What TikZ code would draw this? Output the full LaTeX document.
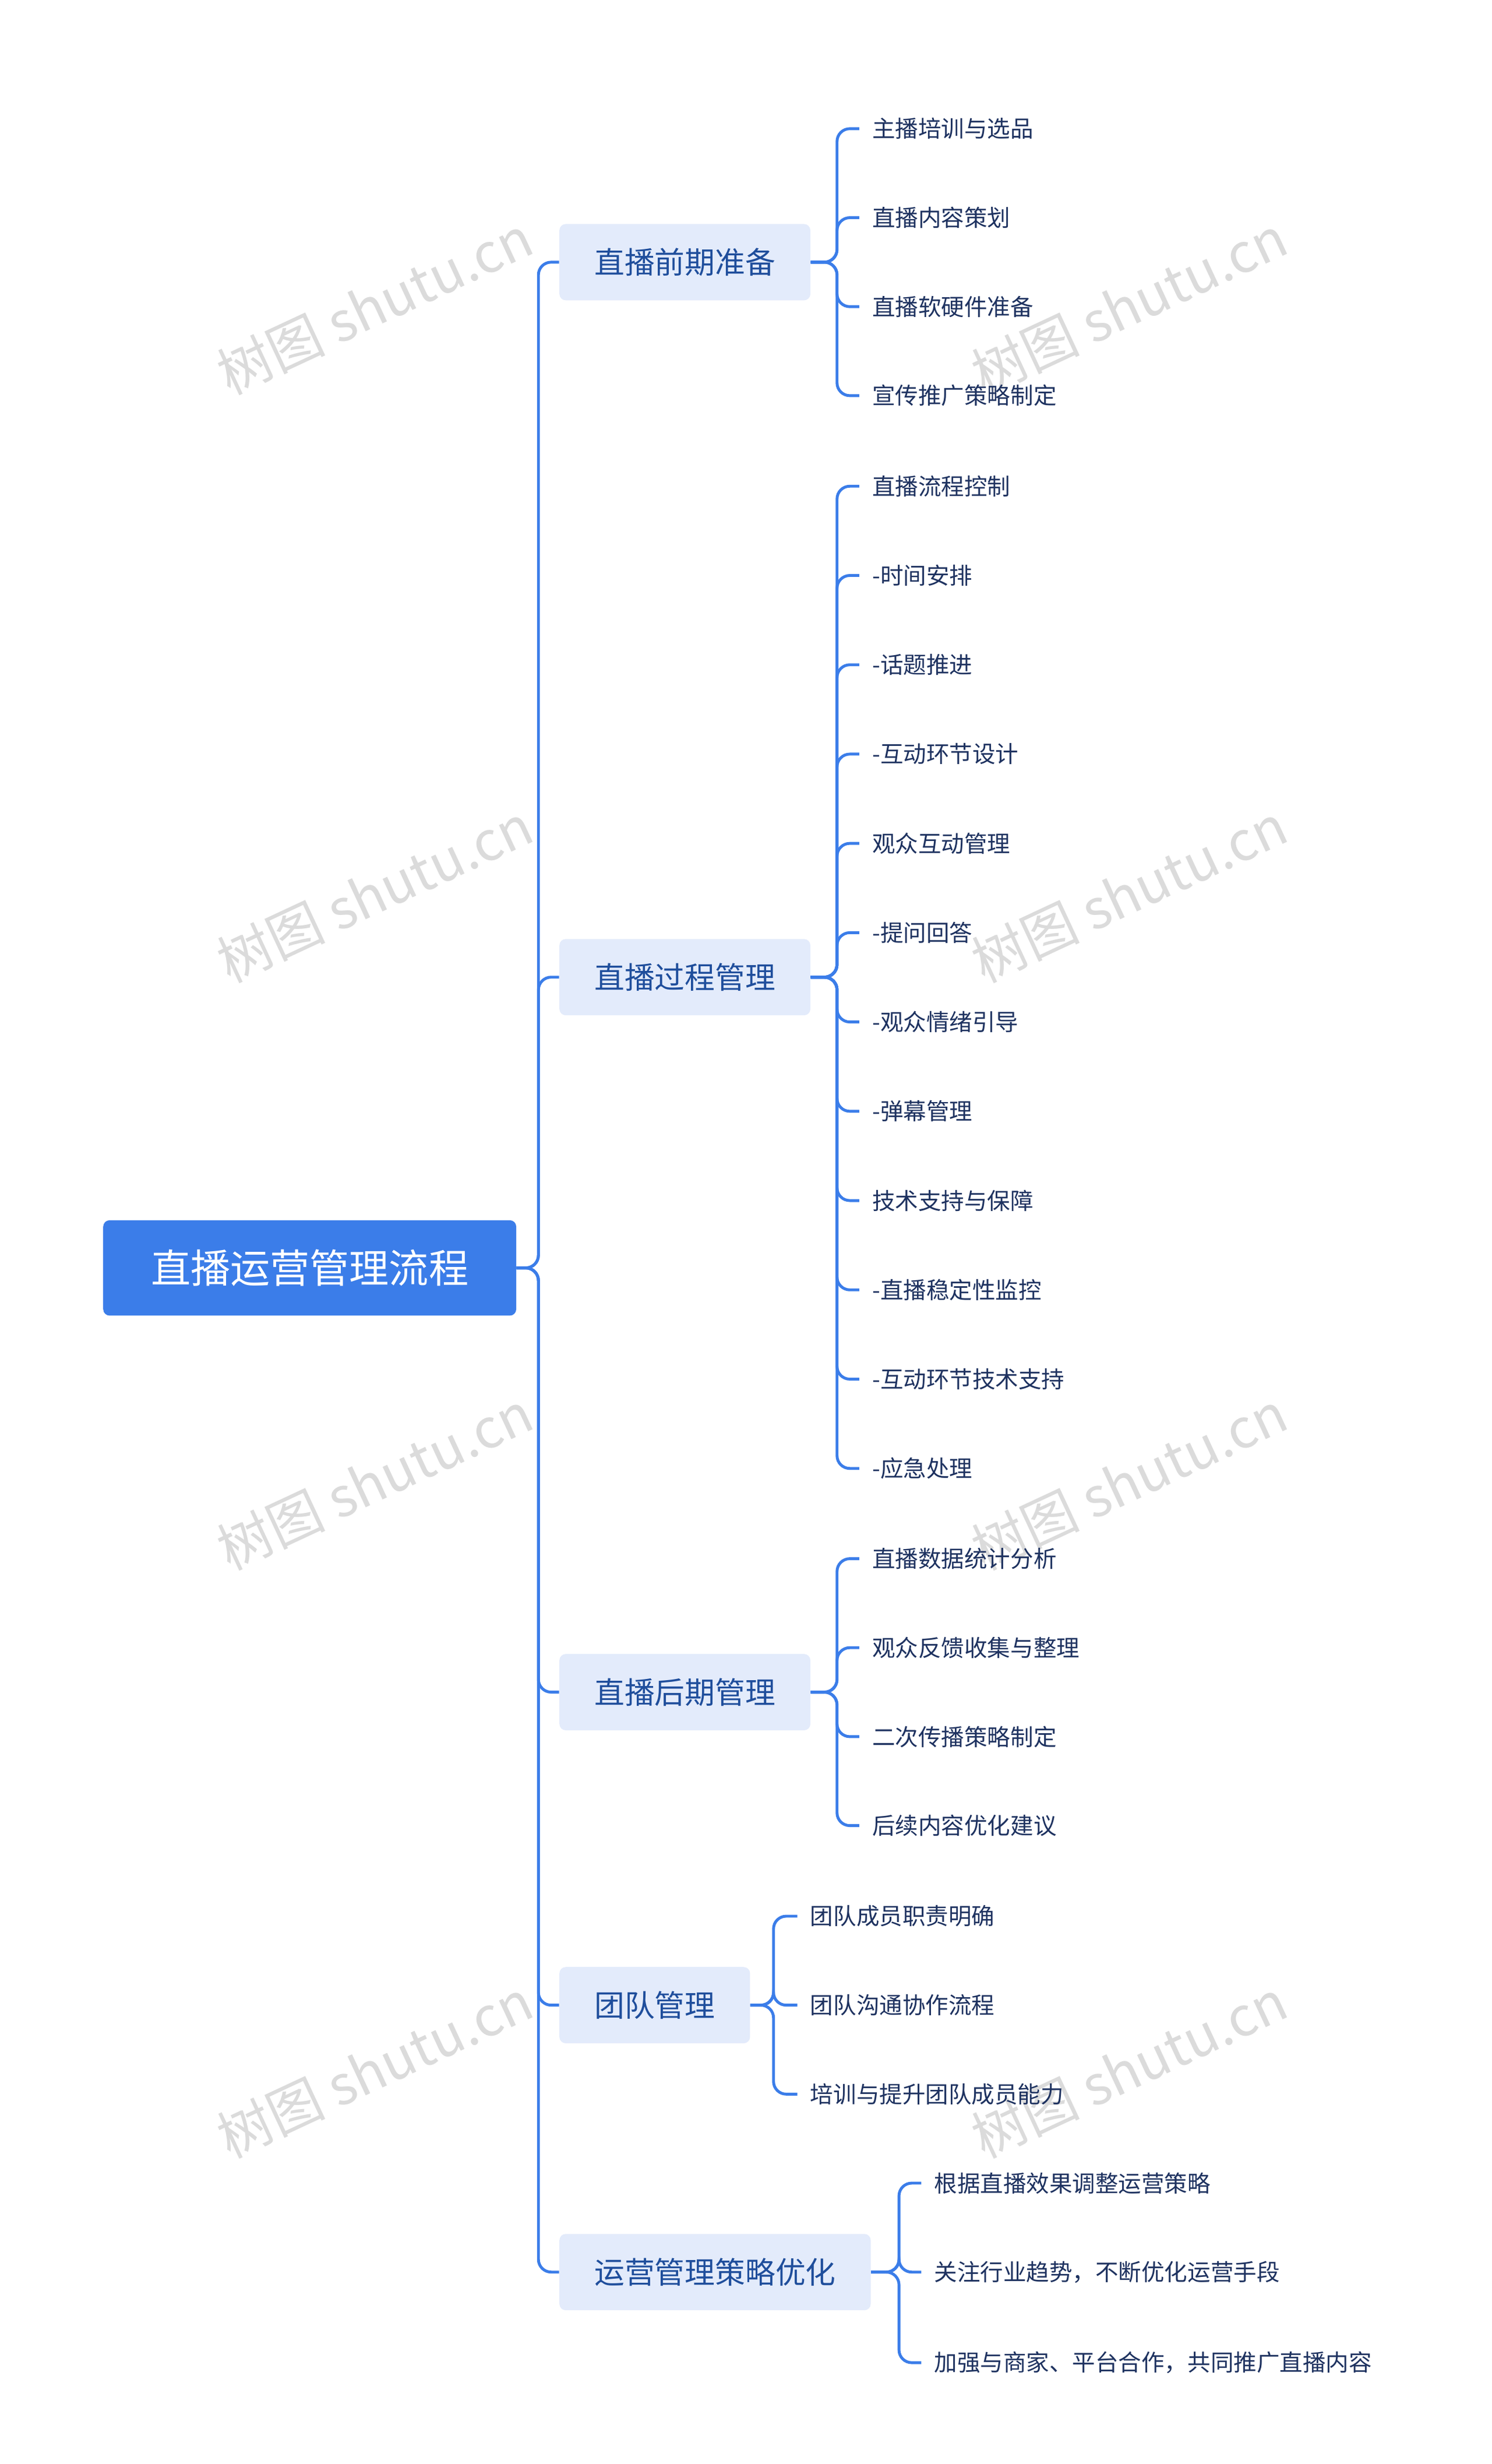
\documentclass[tikz,border=0pt]{standalone}
\usepackage{fontspec}
\setmainfont{Noto Sans CJK SC}
\begin{document}
\begin{tikzpicture}[x=1pt,y=-1pt,
  conn/.style={draw=lineblue,line width=1.8pt,rounded corners=8pt},
  rootbox/.style={fill=rootblue,rounded corners=4pt,text=white,font=\fontsize{25}{30}\selectfont,minimum width=260pt,minimum height=60pt,inner sep=0pt},
  catbox/.style={fill=catfill,rounded corners=4pt,text=textblue,font=\fontsize{19}{23}\selectfont,minimum height=48pt,inner xsep=22pt,anchor=west},
  leaf/.style={anchor=west,text=textdark,font=\fontsize{14.5}{18}\selectfont,inner xsep=0pt},
  wm/.style={text=black!14,font=\fontsize{34}{40}\selectfont,rotate=25}]
\definecolor{lineblue}{HTML}{3B7DE9}
\definecolor{rootblue}{HTML}{3B7DE9}
\definecolor{catfill}{HTML}{E3EBFB}
\definecolor{textblue}{HTML}{1F4E9C}
\definecolor{textdark}{HTML}{1E3260}
\useasboundingbox (0,0) rectangle (939,1550.8);
\fill[white] (0,0) rectangle (939,1550.8);
% watermarks
\foreach \i/\x/\y in {1/236/192,2/711/192,3/236/562,4/711/562,5/236/932,6/711/932,7/236/1302,8/711/1302}
  \node[wm] (wm\i) at (\x,\y) {树图 shutu.cn};
\node[rootbox] (root) at (195,798) {直播运营管理流程};
\node[catbox] (c1) at (352,165) {直播前期准备};
\node[catbox] (c2) at (352,615) {直播过程管理};
\node[catbox] (c3) at (352,1065) {直播后期管理};
\node[catbox] (c4) at (352,1262) {团队管理};
\node[catbox] (c5) at (352,1430) {运营管理策略优化};
\coordinate (tj) at (339,798);
\foreach \c in {c1,c2,c3,c4,c5}
  \draw[conn] (root.east) -- (tj) -- (tj |- \c.west) -- (\c.west);
% group 1
\foreach \n/\y/\t in {a1/81/主播培训与选品,a2/137/直播内容策划,a3/193/直播软硬件准备,a4/249/宣传推广策略制定}
  {\node[leaf] (\n) at (549,\y) {\t};
   \coordinate (b\n) at (527,165);
   \draw[conn] (c1.east) -- (b\n) -- (b\n |- \n.west) -- ([xshift=-8pt]\n.west);}
% group 2
\foreach \n/\y/\t in {b1/306/直播流程控制,b2/362.2/-时间安排,b3/418.4/-话题推进,b4/474.6/-互动环节设计,b5/530.8/观众互动管理,b6/587/-提问回答,b7/643.2/-观众情绪引导,b8/699.4/-弹幕管理,b9/755.6/技术支持与保障,b10/811.8/-直播稳定性监控,b11/868/-互动环节技术支持,b12/924.2/-应急处理}
  {\node[leaf] (\n) at (549,\y) {\t};
   \coordinate (b\n) at (527,615);
   \draw[conn] (c2.east) -- (b\n) -- (b\n |- \n.west) -- ([xshift=-8pt]\n.west);}
% group 3
\foreach \n/\y/\t in {d1/981/直播数据统计分析,d2/1037/观众反馈收集与整理,d3/1093/二次传播策略制定,d4/1149/后续内容优化建议}
  {\node[leaf] (\n) at (549,\y) {\t};
   \coordinate (b\n) at (527,1065);
   \draw[conn] (c3.east) -- (b\n) -- (b\n |- \n.west) -- ([xshift=-8pt]\n.west);}
% group 4
\foreach \n/\y/\t in {e1/1206/团队成员职责明确,e2/1262/团队沟通协作流程,e3/1318/培训与提升团队成员能力}
  {\node[leaf] (\n) at (510,\y) {\t};
   \coordinate (b\n) at (487,1262);
   \draw[conn] (c4.east) -- (b\n) -- (b\n |- \n.west) -- ([xshift=-8pt]\n.west);}
% group 5
\foreach \n/\y/\t in {f1/1374/根据直播效果调整运营策略,f2/1430/关注行业趋势，不断优化运营手段,f3/1487/加强与商家、平台合作，共同推广直播内容}
  {\node[leaf] (\n) at (588,\y) {\t};
   \coordinate (b\n) at (566,1430);
   \draw[conn] (c5.east) -- (b\n) -- (b\n |- \n.west) -- ([xshift=-8pt]\n.west);}
\end{tikzpicture}
\end{document}
